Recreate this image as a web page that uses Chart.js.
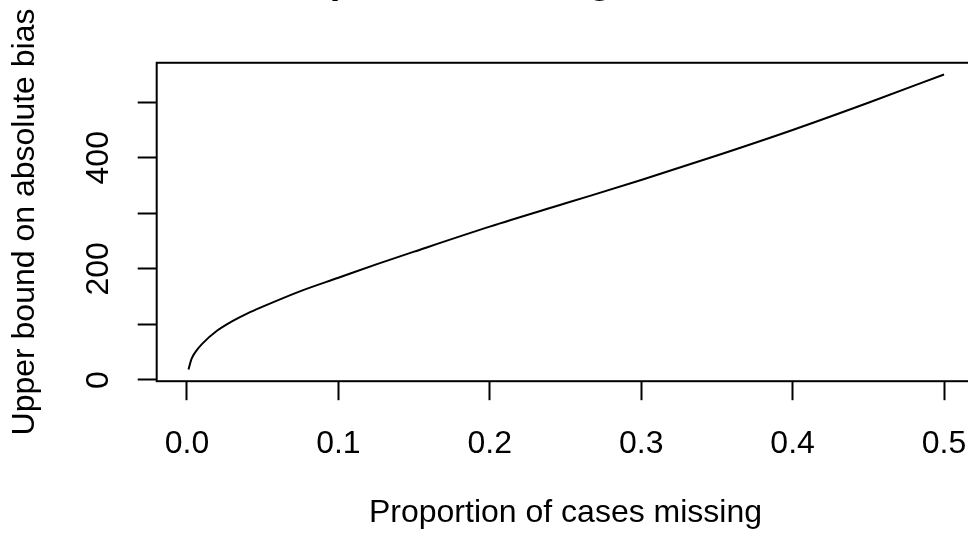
<!DOCTYPE html>
<html>
<head>
<meta charset="utf-8">
<script src="https://cdn.jsdelivr.net/npm/chart.js@4/dist/chart.umd.min.js"></script>
<style>
  html, body { margin:0; padding:0; background:#fff; }
  #wrap { position:relative; width:968px; height:536px; overflow:hidden; background:#fff; }
  /* canvas is a bit larger than the window: title sits mostly above, box runs off the right edge */
  #c { position:absolute; left:0; top:-43px; }
</style>
</head>
<body>
<div id="wrap"><canvas id="c" width="1000" height="579"></canvas></div>
<script>
// ── Data ──────────────────────────────────────────────────────
const missingProp = [0.001, 0.003, 0.006, 0.01, 0.02, 0.03, 0.04, 0.05, 0.075, 0.1, 0.125, 0.15, 0.2, 0.25, 0.3, 0.35, 0.4, 0.45, 0.5];
const biasBound   = [19,    38,    52,    65,   89,   106,  120,  132,  160,   184, 208,   231,  276, 318,  360, 404,  450, 499,  550];

const xTickValues = [0, 0.1, 0.2, 0.3, 0.4, 0.5];
const xTickLabels = ['0.0', '0.1', '0.2', '0.3', '0.4', '0.5'];
const yTickValues = [0, 100, 200, 300, 400, 500];
const yTickLabels = ['0', '', '200', '', '400', ''];

const FONT = "'Liberation Sans', Arial, Helvetica, sans-serif";
const INK  = '#000000';

// R-style closed box round the plot region
const boxPlugin = {
  id: 'box',
  afterDraw(chart) {
    const { ctx, chartArea: a } = chart;
    ctx.save();
    ctx.strokeStyle = INK;
    ctx.lineWidth = 2;
    ctx.strokeRect(a.left, a.top, a.right - a.left, a.bottom - a.top);
    ctx.restore();
  }
};

new Chart(document.getElementById('c').getContext('2d'), {
  type: 'line',
  data: {
    datasets: [{
      data: missingProp.map((x, i) => ({ x, y: biasBound[i] })),
      borderColor: INK, borderWidth: 2, pointRadius: 0,
      cubicInterpolationMode: 'monotone', fill: false,
    }]
  },
  options: {
    responsive: false, animation: false, devicePixelRatio: 1,
    layout: { padding: { left: 0, top: 0, right: 25.7, bottom: 0 } },
    plugins: {
      legend: { display: false },
      tooltip: { enabled: false },
      title: {
        display: true, fullSize: false, text: 'Impact of missing data on bias', color: INK,
        font: { family: FONT, size: 38.4, weight: 'bold', lineHeight: 1.2 },
        padding: { top: 2, bottom: 57.7 },
      },
    },
    scales: {
      x: {
        type: 'linear', min: -0.02, max: 0.52,
        afterBuildTicks: s => { s.ticks = xTickValues.map(v => ({ value: v })); },
        afterFit: s => { s.height = 154.8; },
        grid: { drawOnChartArea: false, drawTicks: true, tickLength: 19, tickWidth: 2, tickColor: INK },
        border: { display: false },
        ticks: {
          autoSkip: false, maxRotation: 0, color: INK, padding: 25,
          font: { family: FONT, size: 32 },
          callback: (v, i) => xTickLabels[i],
        },
        title: {
          display: true, text: 'Proportion of cases missing', color: INK,
          font: { family: FONT, size: 32, lineHeight: 1.2 },
          padding: { top: 0, bottom: 3.7 },
        },
      },
      y: {
        type: 'linear', min: -2.2, max: 571,
        afterBuildTicks: s => { s.ticks = yTickValues.map(v => ({ value: v })); },
        afterFit: s => { s.width = 156.7; },
        grid: { drawOnChartArea: false, drawTicks: true, tickLength: 19, tickWidth: 2, tickColor: INK },
        border: { display: false },
        ticks: {
          autoSkip: false, minRotation: 90, maxRotation: 90, crossAlign: 'center',
          color: INK, padding: 12,
          font: { family: FONT, size: 32 },
          callback: (v, i) => yTickLabels[i],
        },
        title: {
          display: true, text: 'Upper bound on absolute bias', color: INK,
          font: { family: FONT, size: 32, lineHeight: 1.2 },
          padding: { top: 6, bottom: 0 },
        },
      },
    },
  },
  plugins: [boxPlugin],
});
</script>
</body>
</html>
